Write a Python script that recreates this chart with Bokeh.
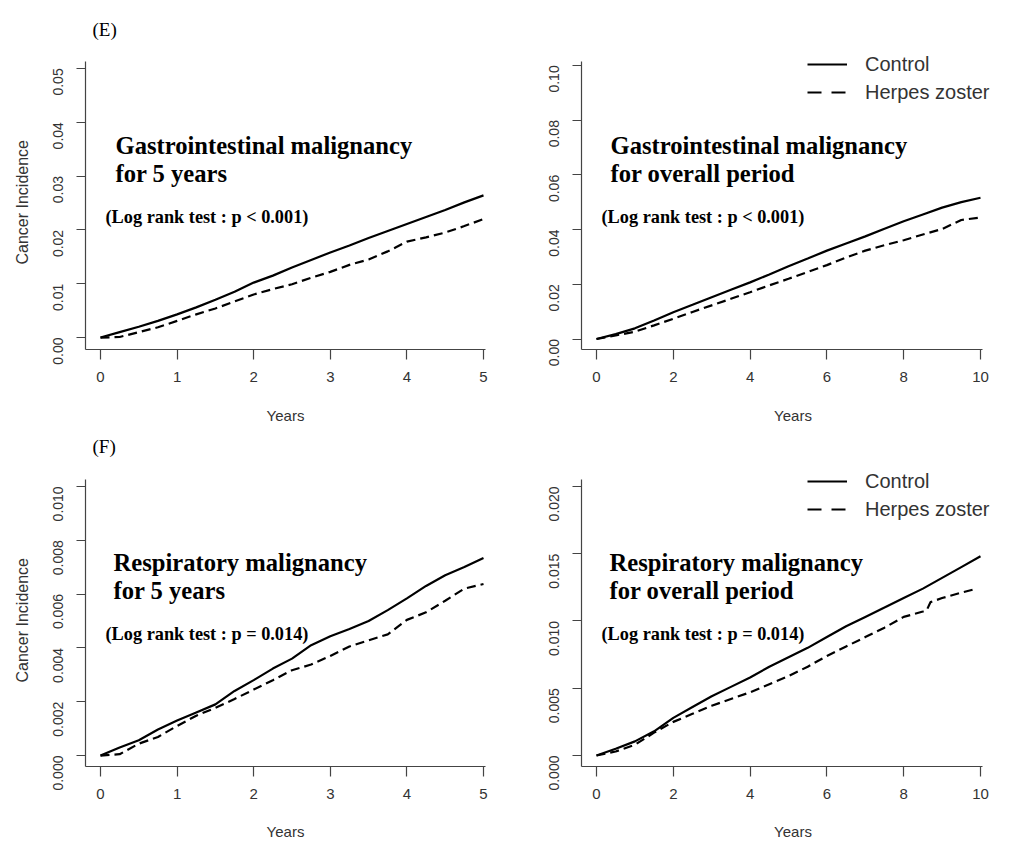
import math
from bokeh.plotting import figure
from bokeh.layouts import gridplot
from bokeh.models import (Range1d, FixedTicker, NumeralTickFormatter, Label, Legend,
                          LegendItem, Title)
from bokeh.embed import file_html
from bokeh.resources import INLINE

# ---------------- data ----------------
# (E) Gastrointestinal malignancy, 5 years
e5_years = [0, 0.25, 0.5, 0.75, 1.0, 1.25, 1.5, 1.75, 2.0, 2.25, 2.5, 2.75, 3.0,
            3.25, 3.5, 3.75, 4.0, 4.25, 4.5, 4.75, 5.0]
e5_control = [0, 0.0010, 0.0020, 0.0031, 0.0043, 0.0056, 0.0070, 0.0085, 0.0102,
              0.0115, 0.0130, 0.0144, 0.0158, 0.0171, 0.0185, 0.0198, 0.0211,
              0.0224, 0.0237, 0.0251, 0.0264]
e5_hz = [0, 0.0001, 0.0010, 0.0019, 0.0031, 0.0043, 0.0054, 0.0067, 0.0080,
         0.0090, 0.0099, 0.0111, 0.0122, 0.0135, 0.0145, 0.0160, 0.0178,
         0.0186, 0.0195, 0.0207, 0.0220]

# (E) Gastrointestinal malignancy, overall period
eall_years = [0, 0.5, 1, 1.5, 2, 2.5, 3, 3.5, 4, 4.5, 5, 5.5, 6, 6.5, 7, 7.5, 8,
              8.5, 9, 9.5, 10]
eall_control = [0, 0.0018, 0.0039, 0.0068, 0.0098, 0.0125, 0.0153, 0.0180, 0.0207,
                0.0236, 0.0266, 0.0294, 0.0323, 0.0349, 0.0375, 0.0403, 0.0430,
                0.0455, 0.0480, 0.0500, 0.0516]
eall_hz = [0, 0.0013, 0.0027, 0.0050, 0.0074, 0.0099, 0.0123, 0.0147, 0.0171,
           0.0196, 0.0220, 0.0245, 0.0270, 0.0298, 0.0323, 0.0343, 0.0361,
           0.0382, 0.0402, 0.0435, 0.0444]

# (F) Respiratory malignancy, 5 years
f5_years = e5_years
f5_control = [0, 0.00030, 0.00057, 0.00097, 0.00130, 0.00160, 0.00190, 0.00240,
              0.00280, 0.00323, 0.00360, 0.00410, 0.00443, 0.00470, 0.00500,
              0.00540, 0.00584, 0.00630, 0.00670, 0.00700, 0.00734]
f5_hz = [0, 0.00005, 0.00044, 0.00069, 0.00110, 0.00148, 0.00177, 0.00210,
         0.00245, 0.00280, 0.00317, 0.00338, 0.00370, 0.00405, 0.00428,
         0.00450, 0.00504, 0.00532, 0.00575, 0.00620, 0.00637]

# (F) Respiratory malignancy, overall period
fall_years = eall_years
fall_control = [0, 0.0005, 0.00105, 0.0018, 0.0028, 0.0036, 0.0044, 0.0051, 0.0058,
                0.0066, 0.0073, 0.0080, 0.0088, 0.0096, 0.0103, 0.0110, 0.0117,
                0.0124, 0.0132, 0.0140, 0.0148]
fall_hz_years = [0, 0.5, 1, 1.5, 2, 2.5, 3, 3.5, 4, 4.5, 5, 5.5, 6, 6.5, 7, 7.5, 8,
                 8.5, 8.6, 8.7, 9, 9.5, 9.9]
fall_hz = [0, 0.0003, 0.0008, 0.0017, 0.0025, 0.0031, 0.0037, 0.0042, 0.0047,
           0.0053, 0.0059, 0.0066, 0.0074, 0.0081, 0.0088, 0.0095, 0.0103,
           0.0107, 0.0108, 0.0114, 0.0117, 0.0121, 0.0124]

ticks_5 = [0, 1, 2, 3, 4, 5]
ticks_10 = [0, 2, 4, 6, 8, 10]
yticks_e5 = [0, 0.01, 0.02, 0.03, 0.04, 0.05]
yticks_eall = [0, 0.02, 0.04, 0.06, 0.08, 0.10]
yticks_f5 = [0, 0.002, 0.004, 0.006, 0.008, 0.010]
yticks_fall = [0, 0.005, 0.010, 0.015, 0.020]

SANS = "Liberation Sans"
SERIF = "Liberation Serif"
AXC = "#444444"
TXC = "#333333"
NAN = float("nan")


def make_panel(width, height, bl, br, bt, bb,
               x0px, xpx_per, y0px, ypx_per, ytop_px, xend_val, xticks, yticks, yfmt,
               xs, ctrl, hz_x, hz, title1, title2, logrank, tx,
               letter=None, ylabel_offset=None, legend=False, xlab_standoff=22):
    # pixel geometry (in figure coordinates) -> ranges
    fl, fr = bl, width - br
    ft, fb = bt, height - bb
    xs0 = -(x0px - fl) / xpx_per
    xs1 = (fr - x0px) / xpx_per
    ys0 = -(fb - y0px) / ypx_per
    ys1 = (y0px - ft) / ypx_per
    ybound = (y0px - ytop_px) / ypx_per

    p = figure(width=width, height=height, x_range=Range1d(xs0, xs1),
               y_range=Range1d(ys0, ys1), output_backend="svg", toolbar_location=None,
               title=None, min_border_left=bl, min_border_right=br,
               min_border_top=bt, min_border_bottom=bb)
    p.xgrid.visible = False
    p.ygrid.visible = False
    p.outline_line_color = None
    p.background_fill_color = "white"
    p.border_fill_color = "white"

    for ax in (p.xaxis[0], p.yaxis[0]):
        ax.axis_line_color = AXC
        ax.axis_line_width = 1.2
        ax.major_tick_line_color = AXC
        ax.major_tick_line_width = 1.2
        ax.major_tick_in = 0
        ax.minor_tick_in = 0
        ax.minor_tick_out = 0
        ax.major_label_text_font = SANS
        ax.major_label_text_color = TXC
        ax.axis_label_text_font = SANS
        ax.axis_label_text_font_size = "15px"
        ax.axis_label_text_font_style = "normal"
        ax.axis_label_text_color = TXC
    xa, ya = p.xaxis[0], p.yaxis[0]
    xa.ticker = FixedTicker(ticks=xticks)
    xa.bounds = (xs0, xend_val)
    xa.major_tick_out = 10
    xa.major_label_standoff = 12
    xa.major_label_text_font_size = "15px"
    xa.axis_label = "Years"
    xa.axis_label_standoff = xlab_standoff
    ya.ticker = FixedTicker(ticks=yticks)
    ya.formatter = NumeralTickFormatter(format=yfmt)
    ya.bounds = (ys0, ybound)
    ya.major_tick_out = 9
    ya.major_label_orientation = math.pi / 2
    ya.major_label_standoff = 18
    ya.major_label_text_font_size = "14px"
    if ylabel_offset is not None:
        p.add_layout(Title(text="Cancer Incidence", align="left", offset=ylabel_offset,
                           vertical_align="top",
                           text_font=SANS, text_font_size="16px", text_font_style="normal",
                           text_color=TXC, standoff=26), "left")

    p.line(xs, ctrl, line_color="black", line_width=2.2)
    p.line(hz_x, hz, line_color="black", line_width=2.2, line_dash="9 5")

    def lab(text, x, y, font, size, style="normal"):
        p.add_layout(Label(x=x, y=y, x_units="screen", y_units="screen", text=text,
                           text_font=font, text_font_size=size, text_font_style=style,
                           text_color="black", text_baseline="alphabetic"))

    lab(title1, tx, 204, SERIF, "24.6px", "bold")
    lab(title2, tx, 176, SERIF, "24.6px", "bold")
    lab(logrank, 20, 133, SERIF, "18.3px", "bold")
    if letter:
        lab(letter, 7, 320, SERIF, "19px")

    if legend:
        lc = p.line([NAN], [NAN], line_color="black", line_width=2.2)
        lh = p.line([NAN], [NAN], line_color="black", line_width=2.2, line_dash="14 10")
        leg = Legend(items=[LegendItem(label="Control", renderers=[lc]),
                            LegendItem(label="Herpes zoster", renderers=[lh])],
                     location=(226, 243), padding=0, margin=0, spacing=0,
                     glyph_width=40, glyph_height=28, label_height=28, label_standoff=18,
                     label_text_font=SANS, label_text_font_size="20px",
                     label_text_color=TXC, border_line_color=None,
                     background_fill_alpha=0)
        p.add_layout(leg)
    return p


# top row: figure y 0..426, frame 3..350 ; bottom row: figure y 426..842, frame 429..767
p1 = make_panel(504, 426, 85, 19, 3, 76, 100, 76.6, 338, 5400, 61, 5.026,
                ticks_5, yticks_e5, "0.00", e5_years, e5_control, e5_years, e5_hz,
                "Gastrointestinal malignancy", "for 5 years",
                "(Log rank test : p < 0.001)", 30, letter="(E)", ylabel_offset=85)
p2 = make_panel(504, 426, 77, 4, 3, 76, 92, 38.4, 339.5, 2745, 61, 10.052,
                ticks_10, yticks_eall, "0.00", eall_years, eall_control, eall_years, eall_hz,
                "Gastrointestinal malignancy", "for overall period",
                "(Log rank test : p < 0.001)", 29, legend=True)
p3 = make_panel(504, 416, 85, 19, 3, 75, 100, 76.6, 330, 27000, 53, 5.026,
                ticks_5, yticks_f5, "0.000", f5_years, f5_control, f5_years, f5_hz,
                "Respiratory malignancy", "for 5 years",
                "(Log rank test : p = 0.014)", 28, letter="(F)", ylabel_offset=84,
                xlab_standoff=21)
p4 = make_panel(504, 416, 77, 4, 3, 75, 92, 38.4, 330, 13500, 53, 10.052,
                ticks_10, yticks_fall, "0.000", fall_years, fall_control, fall_hz_years, fall_hz,
                "Respiratory malignancy", "for overall period",
                "(Log rank test : p = 0.014)", 28, legend=True, xlab_standoff=21)

grid = gridplot([[p1, p2], [p3, p4]], toolbar_location=None)

open("out.html", "w").write(file_html(grid, INLINE))
